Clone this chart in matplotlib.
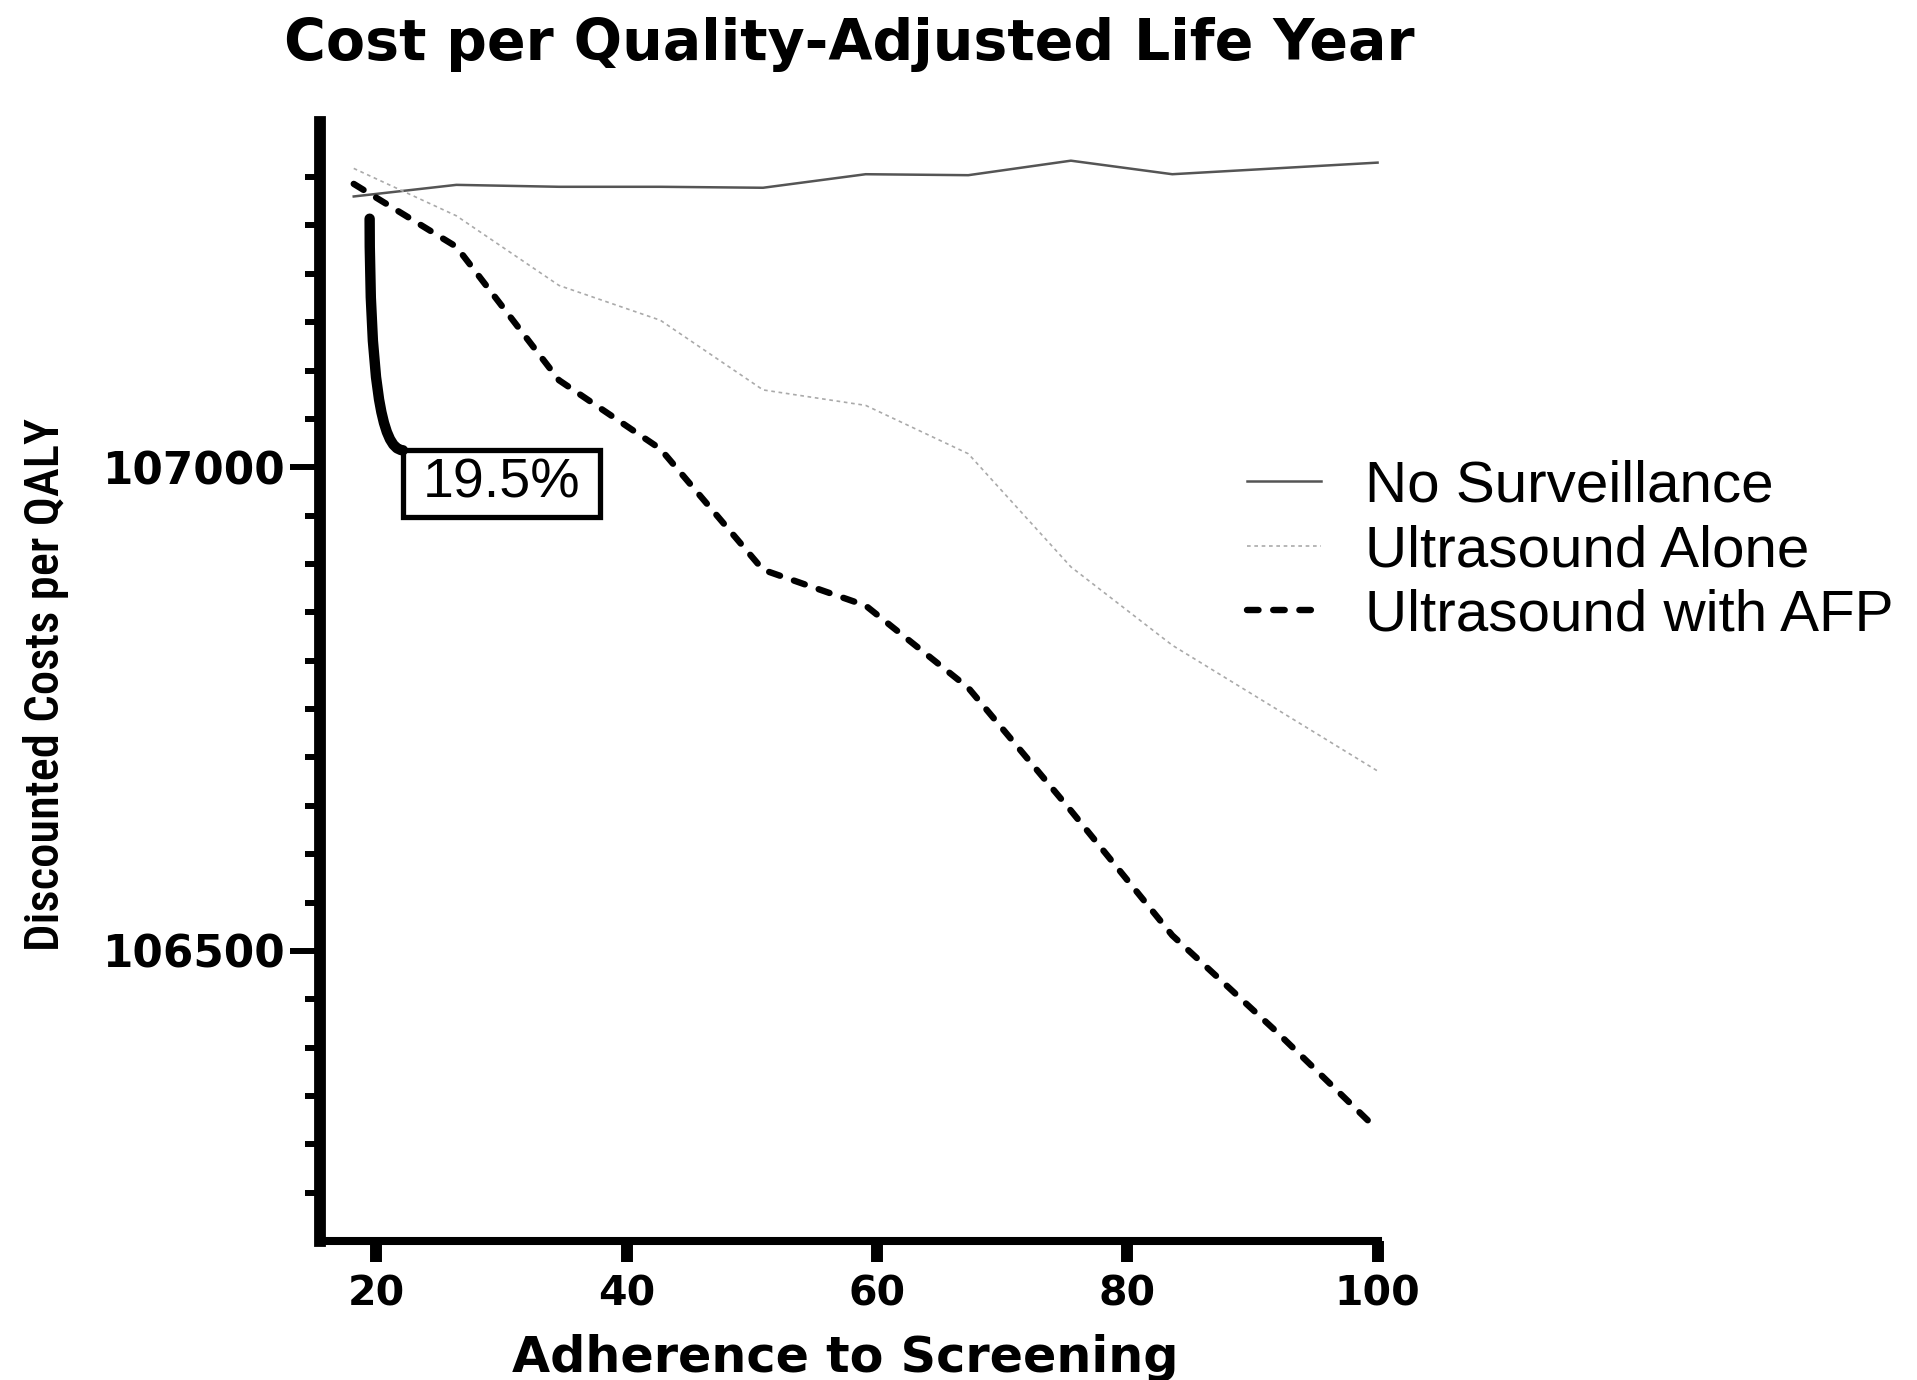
import numpy as np
import matplotlib
matplotlib.use('Agg')
import matplotlib.pyplot as plt
from matplotlib import font_manager
from matplotlib.patches import Rectangle
from matplotlib.ticker import FixedLocator

# data
adherence = [18.2, 26.4, 34.6, 42.7, 50.9, 59.1, 67.3, 75.5, 83.6, 91.8, 100]
no_surv = [107280, 107292, 107290, 107290, 107289, 107303, 107302, 107317, 107303, 107309, 107315]
us_alone = [107309, 107260, 107188, 107152, 107080, 107064, 107014, 106897, 106816, 106751, 106686]
us_afp = [107293, 107228, 107090, 107019, 106894, 106857, 106772, 106645, 106516, 106418, 106315]
series_names = ['No Surveillance', 'Ultrasound Alone', 'Ultrasound with AFP']

x_ticks = [20, 40, 60, 80, 100]
y_major = [106500, 107000]
y_minor = list(range(106250, 107301, 50))

annot_text = '19.5%'
annot_start = (19.47, 107257)     # top of the bracket
annot_corner = (22.13, 107017.6)  # top-left corner of the box
box_w, box_h = 15.73, 69

plt.rcParams['font.family'] = ['Liberation Sans', 'DejaVu Sans']

avail = {f.name for f in font_manager.fontManager.ttflist}
if 'Liberation Sans Narrow' in avail:
    ylab_family, ylab_size = 'Liberation Sans Narrow', 36
elif 'Roboto Condensed' in avail:
    ylab_family, ylab_size = 'Roboto Condensed', 35
else:
    ylab_family, ylab_size = 'DejaVu Sans', 30

fig = plt.figure(figsize=(19.17, 13.8), dpi=100)
ax = fig.add_axes([0.1669, 0.1007, 0.5517, 0.8109])

l1, = ax.plot(adherence, no_surv, color='#555555', lw=1.8, clip_on=False)
l2, = ax.plot(adherence, us_alone, color='#aaaaaa', lw=1.2, ls=(0, (2.2, 2.2)), clip_on=False)
l3, = ax.plot(adherence, us_afp, color='black', lw=4.6, ls=(0, (1.8, 2.3)),
              dash_capstyle='round', clip_on=False)

ax.set_xlim(15.5, 100)
ax.set_ylim(106200, 107357)

for s in ['top', 'right']:
    ax.spines[s].set_visible(False)
ax.spines['left'].set_linewidth(8.5)
ax.spines['bottom'].set_linewidth(5.8)
ax.spines['left'].set_capstyle('projecting')
ax.spines['bottom'].set_capstyle('projecting')

ax.xaxis.set_major_locator(FixedLocator(x_ticks))
ax.yaxis.set_major_locator(FixedLocator(y_major))
ax.yaxis.set_minor_locator(FixedLocator(y_minor))
ax.ticklabel_format(useOffset=False, style='plain')

ax.tick_params(axis='x', which='major', length=15, width=8.6, pad=9)
ax.tick_params(axis='y', which='major', length=21.6, width=4.3, pad=4)
ax.tick_params(axis='y', which='minor', length=10.8, width=4.3)
for lab in ax.get_xticklabels():
    lab.set_fontproperties(dict(family='DejaVu Sans', weight='bold', size=29.5))
for lab in ax.get_yticklabels():
    lab.set_fontproperties(dict(family='DejaVu Sans', weight='bold', size=31.5))

fig.text(0.4429, 0.968, 'Cost per Quality-Adjusted Life Year', ha='center', va='center',
         family='DejaVu Sans', weight='bold', fontsize=41)

ax.set_xlabel('Adherence to Screening', family='DejaVu Sans', weight='bold', fontsize=35.5, va='baseline')
ax.xaxis.set_label_coords(0.4964, -0.1171)
ax.set_ylabel('Discounted Costs per QALY', family=ylab_family, fontsize=ylab_size,
              weight='medium', va='center')
ax.yaxis.set_label_coords(-0.2586, 0.4969)

# bracket + boxed percentage
ax.annotate('', xy=annot_start, xytext=annot_corner,
            arrowprops=dict(arrowstyle='-', connectionstyle='angle3,angleA=0,angleB=90',
                            lw=7.5, color='black', shrinkA=0, shrinkB=0))
ax.add_patch(Rectangle((annot_corner[0], annot_corner[1] - box_h), box_w, box_h,
                       fill=False, ec='black', lw=3.8))
ax.text(annot_corner[0] + box_w / 2, 106968.5, annot_text, ha='center', va='baseline', fontsize=40)

leg = fig.legend([l1, l2, l3], series_names, loc='upper left', bbox_to_anchor=(0.6503, 0.667),
                 frameon=False, fontsize=42, handlelength=1.28, handletextpad=0.75,
                 labelspacing=0.18, borderpad=0, borderaxespad=0)

fig.savefig('out.png', dpi=100)
